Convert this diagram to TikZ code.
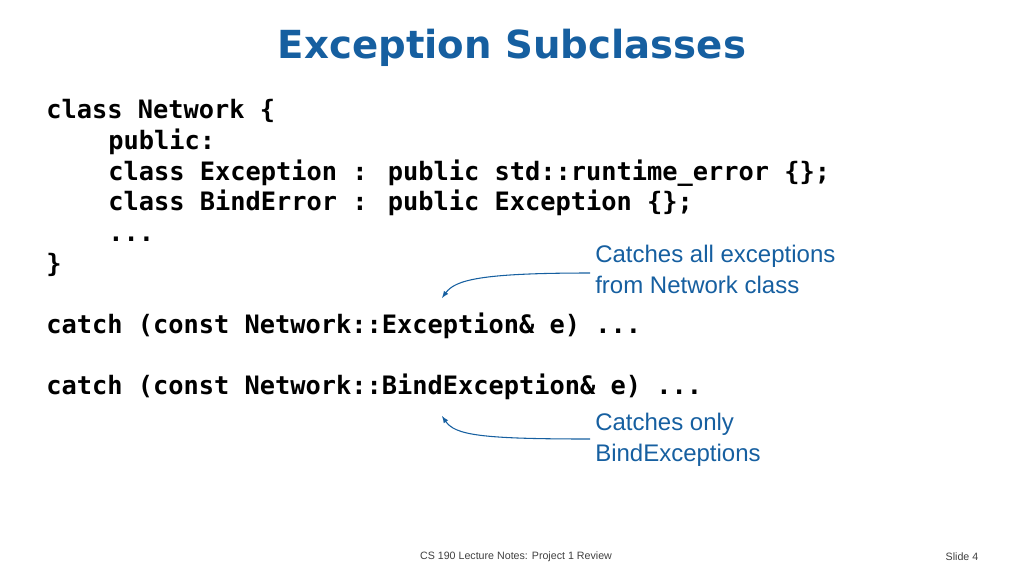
\documentclass[tikz,border=0pt]{standalone}
\usepackage{fontspec}
\setmainfont{Liberation Sans}
\newfontfamily\titlefont{DejaVu Sans}
\newfontfamily\codefont{DejaVu Sans Mono}
\definecolor{slideblue}{RGB}{22,95,160}
\tikzset{
  codeline/.style={anchor=base west, inner sep=0pt, font=\codefont\bfseries\fontsize{19}{23}\selectfont},
  note/.style={anchor=north west, inner sep=0pt, align=left, text=slideblue, font=\fontsize{18}{23}\selectfont},
  pointer/.style={-latex, slideblue, thick}
}
\begin{document}
\begin{tikzpicture}[x=0.75pt, y=-0.75pt]
  \useasboundingbox (0,0) rectangle (1024,576);
  \node[text=slideblue, font=\titlefont\bfseries\fontsize{29}{34}\selectfont] (title) at (512,48) {Exception Subclasses};
  % code
  \node[codeline] (l1) at (46,118) {class Network \{};
  \node[codeline] (l2) at (108,149) {public:};
  \node[codeline] (l3) at (108,180) {class Exception : public std::runtime\_error \{\};};
  \node[codeline] (l4) at (108,210) {class BindError : public Exception \{\};};
  \node[codeline] (l5) at (108,241) {...};
  \node[codeline] (l6) at (46,272) {\}};
  \node[codeline] (c1) at (46,333) {catch (const Network::Exception\& e) ...};
  \node[codeline] (c2) at (46,394) {catch (const Network::BindException\& e) ...};
  % notes
  \node[note] (n1) at (595,245) {Catches all exceptions\\from Network class};
  \node[note] (n2) at (595,413) {Catches only\\BindExceptions};
  \coordinate (t1) at (442,298);
  \coordinate (t2) at (442,416);
  \draw[pointer] (590,273) .. controls (480,273) and (455,280) .. (t1);
  \draw[pointer] (590,439) .. controls (480,439) and (455,435) .. (t2);
  % footer
  \node[font=\fontsize{8}{10}\selectfont, text=black!75] (foot) at (516,557) {CS 190 Lecture Notes: Project 1 Review};
  \node[font=\fontsize{8}{10}\selectfont, text=black!75] (slide) at (962,557) {Slide 4};
\end{tikzpicture}
\end{document}
